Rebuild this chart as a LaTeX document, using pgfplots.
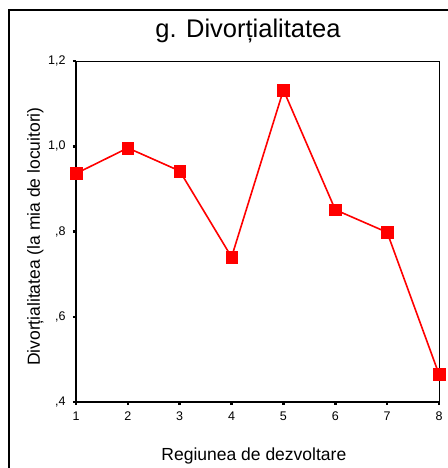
\documentclass[border=0pt]{standalone}
\usepackage{fontspec}
\setmainfont{Liberation Sans}
\usepackage{pgfplots}
\pgfplotsset{compat=1.18}
\begin{document}
\begin{tikzpicture}[x=1pt,y=1pt]
\useasboundingbox (0,0) rectangle (447,468);
% outer chart frame (cut off at right and bottom)
\draw[line width=1.3pt] (9,-20) -- (9,458) -- (480,458);
\node[font=\fontsize{25.5}{28}\selectfont, anchor=base] at (248,430) {g. Divorțialitatea};
\begin{axis}[
    at={(76pt,66pt)}, anchor=south west,
    scale only axis, width=363pt, height=341pt,
    xmin=1, xmax=8, ymin=0.4, ymax=1.2,
    xtick={1,...,8},
    ytick={0.4,0.6,0.8,1.0,1.2},
    yticklabels={{,4},{,6},{,8},{1,0},{1,2}},
    xtick pos=left, ytick pos=left,
    tick align=outside,
    major tick length=3pt,
    tick style={line width=2.5pt, black},
    axis line style={line width=1pt},
    ticklabel style={font=\fontsize{12.5}{14}\selectfont},
    xticklabel style={yshift=-3pt},
    yticklabel style={xshift=-4pt},
    /pgf/number format/assume math mode=true,
    xlabel={Regiunea de dezvoltare},
    ylabel={Divorțialitatea (la mia de locuitori)},
    label style={font=\fontsize{17.5}{20}\selectfont},
    xlabel style={at={(axis description cs:0.49,0)}, anchor=base, yshift=-59pt},
    ylabel style={at={(axis description cs:0,0.485)}, anchor=base, yshift=36pt},
    clip=false,
]
\draw[line width=2pt] (rel axis cs:0,1) -- (rel axis cs:0,0) -- (rel axis cs:1,0);
\addplot[red, line width=1.6pt, mark=square*, mark size=5.8pt,
    mark options={rounded corners=3.5pt, fill=red, draw=red, line width=0.5pt}]
  coordinates {
    (1,0.936) (2,0.996) (3,0.942) (4,0.740) (5,1.132) (6,0.851) (7,0.798) (8,0.465)
  };
\end{axis}
\end{tikzpicture}
\end{document}
